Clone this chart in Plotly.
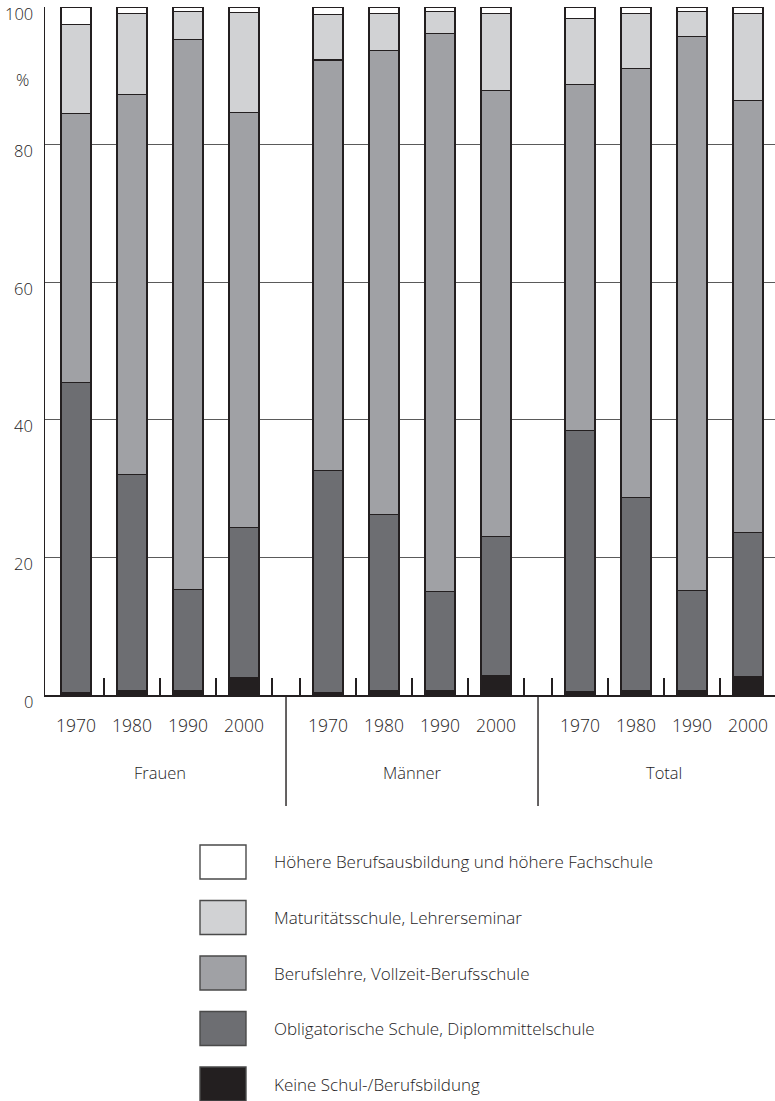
import plotly.graph_objects as go

# ---------------- data ----------------
groups = ["Frauen", "Männer", "Total"]
years = ["1970", "1980", "1990", "2000"]

# series listed bottom -> top of the stack; values ordered Frauen(4), Männer(4), Total(4)
series_names = [
    "Keine Schul-/Berufsbildung",
    "Obligatorische Schule, Diplommittelschule",
    "Berufslehre, Vollzeit-Berufsschule",
    "Maturitätsschule, Lehrerseminar",
    "Höhere Berufsausbildung und höhere Fachschule",
]
keine = [0.4, 0.6, 0.6, 2.6, 0.4, 0.6, 0.6, 2.9, 0.45, 0.6, 0.6, 2.75]
obligatorisch = [45.0, 31.4, 14.7, 21.7, 32.2, 25.7, 14.4, 20.2, 38.05, 28.15, 14.6, 20.85]
berufslehre = [39.1, 55.3, 80.0, 60.4, 59.7, 67.4, 81.2, 64.8, 50.2, 62.25, 80.55, 62.8]
maturitaet = [13.0, 11.8, 4.1, 14.5, 6.6, 5.4, 3.1, 11.15, 9.6, 8.1, 3.55, 12.65]
hoehere = [2.5, 0.9, 0.6, 0.8, 1.1, 0.9, 0.7, 0.95, 1.7, 0.9, 0.7, 0.95]
series_values = [keine, obligatorisch, berufslehre, maturitaet, hoehere]
series_colors = ["#231F20", "#6D6E72", "#A0A1A5", "#D1D2D4", "#FFFFFF"]

y_ticks = [0, 20, 40, 60, 80, 100]

# ---------------- layout helpers ----------------
W, H = 775, 1101
L, T, B = 45, 7, 695
PW, PH = W - L, B - T
GAP = 0.5
XMIN, XMAX = -0.554, 12.482

def px_x(px):
    return (px - L) / PW

def px_y(py):
    return (B - py) / PH

def data_to_paper_x(x):
    return (x - XMIN) / (XMAX - XMIN)

n_y = len(years)
x_pos = [g * (n_y + GAP) + i for g in range(len(groups)) for i in range(n_y)]

FONT = "Open Sans"
TXT = "#1e1c1d"

fig = go.Figure()
for name, vals, col in zip(series_names, series_values, series_colors):
    fig.add_trace(go.Bar(
        x=x_pos, y=vals, name=name, width=0.536,
        marker=dict(color=col, line=dict(color="#231F20", width=1.1)),
        showlegend=False, hoverinfo="skip",
    ))

# tick marks at slot boundaries (including gaps)
tick_pos = []
for g in range(len(groups)):
    start = g * (n_y + GAP)
    for i in range(n_y + 1):
        b = start + i - 0.5
        if b > XMIN + 0.1:
            tick_pos.append(b)

annotations = []
shapes = []

# y tick labels
for v in y_ticks:
    annotations.append(dict(
        x=0, xref="paper", y=v, yref="y", text=str(v), showarrow=False,
        xanchor="right", yanchor="middle", xshift=-10, yshift=-6,
        font=dict(family=FONT, size=16.5, color=TXT, weight=300),
    ))
annotations.append(dict(
    x=px_x(22), xref="paper", y=px_y(80), yref="paper", text="%", showarrow=False,
    xanchor="center", yanchor="middle",
    font=dict(family=FONT, size=16.5, color=TXT, weight=300),
))

# year labels
for k, xp in enumerate(x_pos):
    annotations.append(dict(
        x=xp, xref="x", y=px_y(725), yref="paper", text=years[k % n_y], showarrow=False,
        xanchor="center", yanchor="middle",
        font=dict(family=FONT, size=17.5, color=TXT, weight=300),
    ))

# group labels and separators
for g, gname in enumerate(groups):
    center = g * (n_y + GAP) + (n_y - 1) / 2
    annotations.append(dict(
        x=center, xref="x", y=px_y(772), yref="paper", text=gname, showarrow=False,
        xanchor="center", yanchor="middle",
        font=dict(family=FONT, size=16.5, color=TXT, weight=300),
    ))
    if g > 0:
        sep = g * (n_y + GAP) - 0.5 - GAP / 2
        xs = data_to_paper_x(sep)
        shapes.append(dict(
            type="line", xref="paper", yref="paper", x0=xs, x1=xs, y0=0, y1=px_y(806),
            line=dict(color="#231F20", width=1.4),
        ))

# custom legend (top -> bottom: reversed stack order)
leg_top0, leg_step, sw_w, sw_h = 845, 55.5, 46, 34
for j, idx in enumerate(reversed(range(len(series_names)))):
    top = leg_top0 + j * leg_step
    shapes.append(dict(
        type="rect", xref="paper", yref="paper",
        x0=px_x(200), x1=px_x(200 + sw_w), y0=px_y(top + sw_h), y1=px_y(top),
        fillcolor=series_colors[idx], line=dict(color="#4a4a4a", width=1.4),
    ))
    annotations.append(dict(
        x=px_x(272), xref="paper", y=px_y(top + sw_h / 2), yref="paper",
        text=series_names[idx], showarrow=False, xanchor="left", yanchor="middle",
        font=dict(family=FONT, size=17, color=TXT, weight=300),
    ))

fig.update_layout(
    width=W, height=H, autosize=False,
    margin=dict(l=L, r=0, t=T, b=H - B, pad=0),
    paper_bgcolor="white", plot_bgcolor="white",
    barmode="stack", bargap=0,
    font=dict(family=FONT, size=16, color=TXT),
    annotations=annotations, shapes=shapes,
    xaxis=dict(
        range=[XMIN, XMAX], showgrid=False, zeroline=False,
        tickmode="array", tickvals=tick_pos, ticks="inside", ticklen=17,
        tickwidth=1.2, tickcolor="#231F20", showticklabels=False,
        showline=True, linecolor="#231F20", linewidth=1.5,
    ),
    yaxis=dict(
        range=[0, 100], tickmode="array", tickvals=y_ticks, showticklabels=False,
        showgrid=True, gridcolor="#5a5a5a", gridwidth=1.1, zeroline=False,
        showline=True, linecolor="#231F20", linewidth=1.5, ticks="",
    ),
)

fig.write_html(
    "out.html",
    config={"displayModeBar": False, "staticPlot": True},
    post_script="document.body.style.margin='0';document.body.style.overflow='hidden';",
)
